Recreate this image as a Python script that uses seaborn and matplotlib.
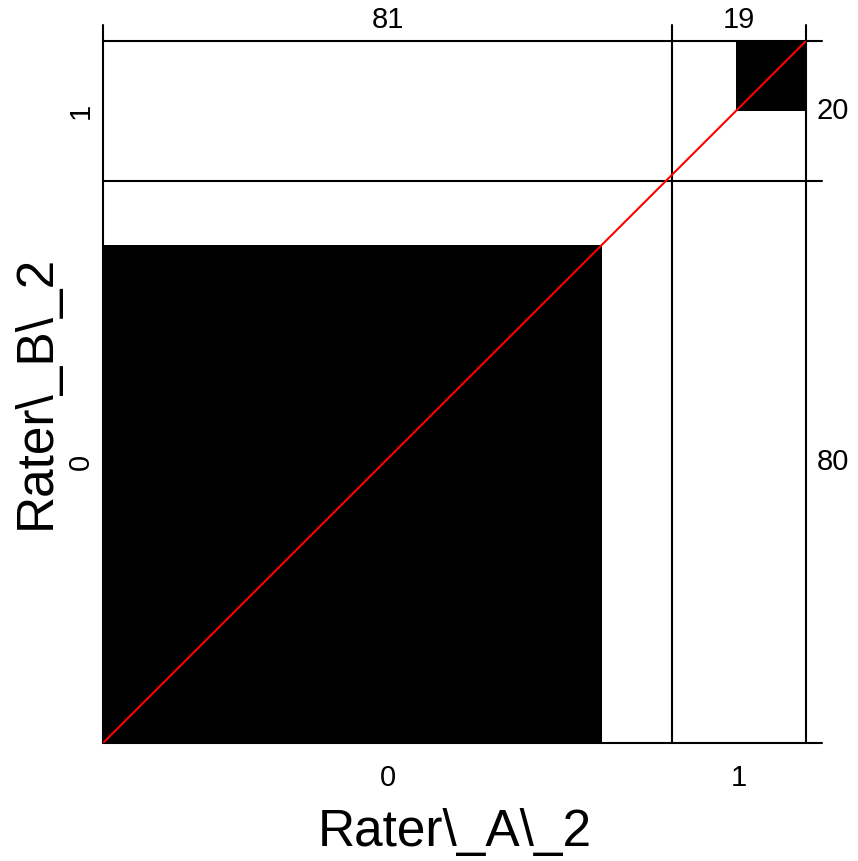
import numpy as np
import matplotlib
matplotlib.use("Agg")
import matplotlib.pyplot as plt
import seaborn as sns

# agreement table: counts[a][b] = rater A level a, rater B level b
levels = ["0", "1"]
counts = np.array([[71, 10],
                   [9, 10]])
x_name = "Rater\\_A\\_2"
y_name = "Rater\\_B\\_2"

col_freq = counts.sum(axis=1)   # rater A margins: 81, 19
row_freq = counts.sum(axis=0)   # rater B margins: 80, 20
total = counts.sum()
xs = np.concatenate([[0], np.cumsum(col_freq)])
ys = np.concatenate([[0], np.cumsum(row_freq)])

sns.set_theme(style="white")
plt.rcParams['font.family'] = ['Liberation Sans', 'DejaVu Sans']
plt.rcParams['text.color'] = 'black'
plt.rcParams['xtick.color'] = 'black'
plt.rcParams['ytick.color'] = 'black'
plt.rcParams['axes.labelcolor'] = 'black'

fig = plt.figure(figsize=(8.58, 8.61), dpi=100)
ax = fig.add_axes([103/858, 118/861, 703/858, 702/861])
ax.set_xlim(0, total)
ax.set_ylim(0, total)

# exact agreement squares
for i in range(len(levels)):
    x0 = xs[i] + counts[i, :i].sum()
    y0 = ys[i] + counts[:i, i].sum()
    ax.bar(x0, counts[i, i], width=counts[i, i], bottom=y0, align='edge',
           color='black', edgecolor='none', zorder=2)

# frame lines (slightly extended beyond plot)
ext = total * 0.023
for xv in xs:
    ax.plot([xv, xv], [0, total + ext], color='black', lw=1.5, clip_on=False, zorder=3)
for yv in ys:
    ax.plot([0, total + ext], [yv, yv], color='black', lw=1.5, clip_on=False, zorder=3)

# diagonal
sns.lineplot(x=[0, total], y=[0, total], color='#ff0000', lw=1.5, ax=ax, zorder=4)

for s in ax.spines.values():
    s.set_visible(False)

ax.set_xticks((xs[:-1] + xs[1:]) / 2)
ax.set_xticklabels(levels, fontsize=21)
ax.set_yticks((ys[:-1] + ys[1:]) / 2)
ax.set_yticklabels(levels, fontsize=21, rotation=90, va='center')
ax.tick_params(axis='x', length=0, pad=15)
ax.tick_params(axis='y', length=0, pad=6)

# marginal totals
for xc, f in zip((xs[:-1] + xs[1:]) / 2, col_freq):
    ax.text(xc, total + 1.0, str(f), ha='center', va='bottom', fontsize=21, clip_on=False)
for yc, f in zip((ys[:-1] + ys[1:]) / 2, row_freq):
    ax.text(total + 1.5, yc, str(f), ha='left', va='center', fontsize=21, clip_on=False)

ax.set_xlabel(x_name, fontsize=37, labelpad=12)
ax.set_ylabel(y_name, fontsize=37, labelpad=4)

fig.savefig("out.png", dpi=100)
